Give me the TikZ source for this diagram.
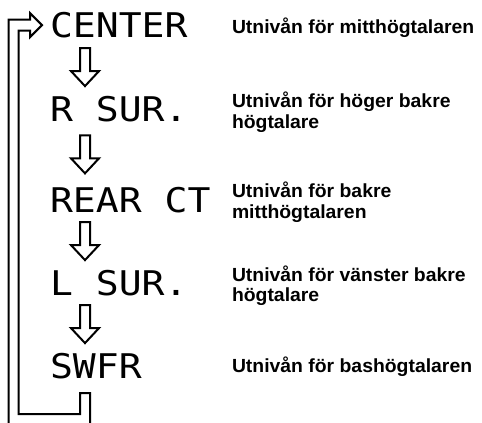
\documentclass[tikz,border=0pt]{standalone}
\usepackage{fontspec}
\usepackage{tikz}
\usetikzlibrary{calc}
\newfontfamily\lcdfont{DejaVu Sans Mono}[FakeStretch=1.12]
\newfontfamily\lblfont{Liberation Sans}[FakeStretch=1.02]

\begin{document}
\begin{tikzpicture}[x=1pt, y=-1pt, line width=2pt,
    lcd/.style={font=\lcdfont\fontsize{34}{34}\selectfont, inner sep=0pt,
        anchor=base west, text height=24.8pt, text depth=0pt},
    lbl/.style={font=\lblfont\bfseries\fontsize{19}{20.5}\selectfont,
        inner sep=0pt, anchor=base west, align=left},
    blockarrow/.style={draw, to path={
        let \p1=(\tikztostart), \p2=(\tikztotarget), \p3=($(\p1)!0.5!(\p2)$) in
        (\x3-5pt,\y3+19pt) -- (\x3+5pt,\y3+19pt) -- (\x3+5pt,\y3-4pt)
        -- (\x3+14pt,\y3-4pt) -- (\x3,\y3-19pt) -- (\x3-14pt,\y3-4pt)
        -- (\x3-5pt,\y3-4pt) -- cycle}}]
    \useasboundingbox (0,0) rectangle (482,423);
    \clip (0,0) rectangle (482,423);
    \coordinate (acol) at (85,0);

    \node[lcd] (center) at (49,37.5) {CENTER};
    \node[lcd] (rsur) at (49,121.5) {R SUR.};
    \node[lcd] (rearct) at (49,212) {REAR CT};
    \node[lcd] (lsur) at (49,295) {L SUR.};
    \node[lcd] (swfr) at (49,378) {SWFR};

    % two-line labels sit on the baseline of their last line
    \node[lbl] (lcenter) at (231,33.5) {Utnivån för mitthögtalaren};
    \node[lbl] (lrsur) at (231,128) {Utnivån för höger bakre\\högtalare};
    \node[lbl] (lrearct) at (231,218) {Utnivån för bakre\\mitthögtalaren};
    \node[lbl] (llsur) at (231,301.5) {Utnivån för vänster bakre\\högtalare};
    \node[lbl] (lswfr) at (231,372) {Utnivån för bashögtalaren};

    \foreach \a/\b in {center/rsur, rsur/rearct, rearct/lsur, lsur/swfr}
        \draw[blockarrow] (\a.south -| acol) to (\b.north -| acol);

    \draw let \p1=([yshift=-14pt]swfr.south -| acol), \p2=([xshift=-7pt]center.west) in
        (\x1+5pt,\y1) -- (\x1+5pt,\y1-32pt) -- (8.5pt,\y1-32pt) -- (8.5pt,\y2+5.5pt)
        -- (\x2-12pt,\y2+5.5pt) -- (\x2-12pt,\y2+12pt) -- (\p2)
        -- (\x2-12pt,\y2-12pt) -- (\x2-12pt,\y2-5.5pt) -- (18.5pt,\y2-5.5pt)
        -- (18.5pt,\y1-21pt) -- (\x1-5pt,\y1-21pt) -- (\x1-5pt,\y1) -- cycle;
\end{tikzpicture}
\end{document}
